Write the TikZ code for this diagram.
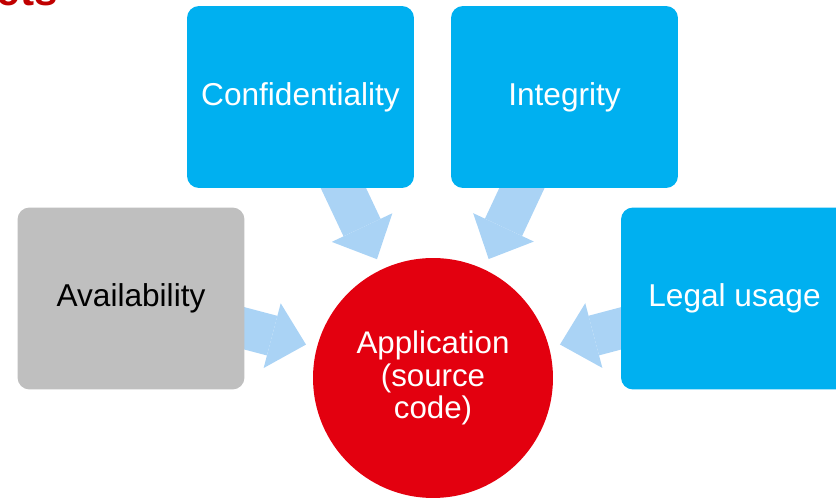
\documentclass[tikz,border=0pt]{standalone}
\usepackage{fontspec}
\setmainfont{Liberation Sans}
\usetikzlibrary{arrows.meta,backgrounds}
\definecolor{goalblue}{RGB}{0,176,240}
\definecolor{goalgrey}{RGB}{191,191,191}
\definecolor{appred}{RGB}{227,0,15}
\definecolor{feedblue}{RGB}{170,211,245}
\definecolor{titlered}{RGB}{192,0,0}

\begin{document}
\begin{tikzpicture}[x=0.02cm,y=0.02cm]
\tikzstyle{every node}+=[inner sep=0pt]
\tikzstyle{goal}=[rounded corners=0.24cm, minimum width=4.54cm, minimum height=3.64cm, fill=goalblue, text=white, font=\fontsize{18}{21.6}\selectfont]
\tikzstyle{feed}=[feedblue, line width=0.82cm, shorten <=-0.5cm, shorten >=0.22cm, -{Triangle[width=1.34cm,length=0.7cm,line width=0pt]}]
\clip (0,0) rectangle (836,-499);
\useasboundingbox (0,0) rectangle (836,-499);
\draw (58,-6) node [anchor=base east, text=titlered, font=\bfseries\fontsize{24}{24}\selectfont] (title) {ets};
\draw (300.5,-97) node [goal] (conf) {Confidentiality};
\draw (564.5,-97) node [goal] (integ) {Integrity};
\draw (131,-298.5) node [goal, fill=goalgrey, text=black] (avail) {Availability};
\draw (734.5,-298.5) node [goal] (legal) {Legal usage};
\draw (433,-378) node [circle, fill=appred, minimum size=4.8cm, text=white, align=center, font=\fontsize{17.8}{18.6}\selectfont] (app) {Application\\(source\\code)};
\begin{scope}[on background layer]
\draw [feed] (conf) -- (app);
\draw [feed] (integ) -- (app);
\draw [feed] (avail) -- (app);
\draw [feed] (legal) -- (app);
\end{scope}
\end{tikzpicture}
\end{document}
